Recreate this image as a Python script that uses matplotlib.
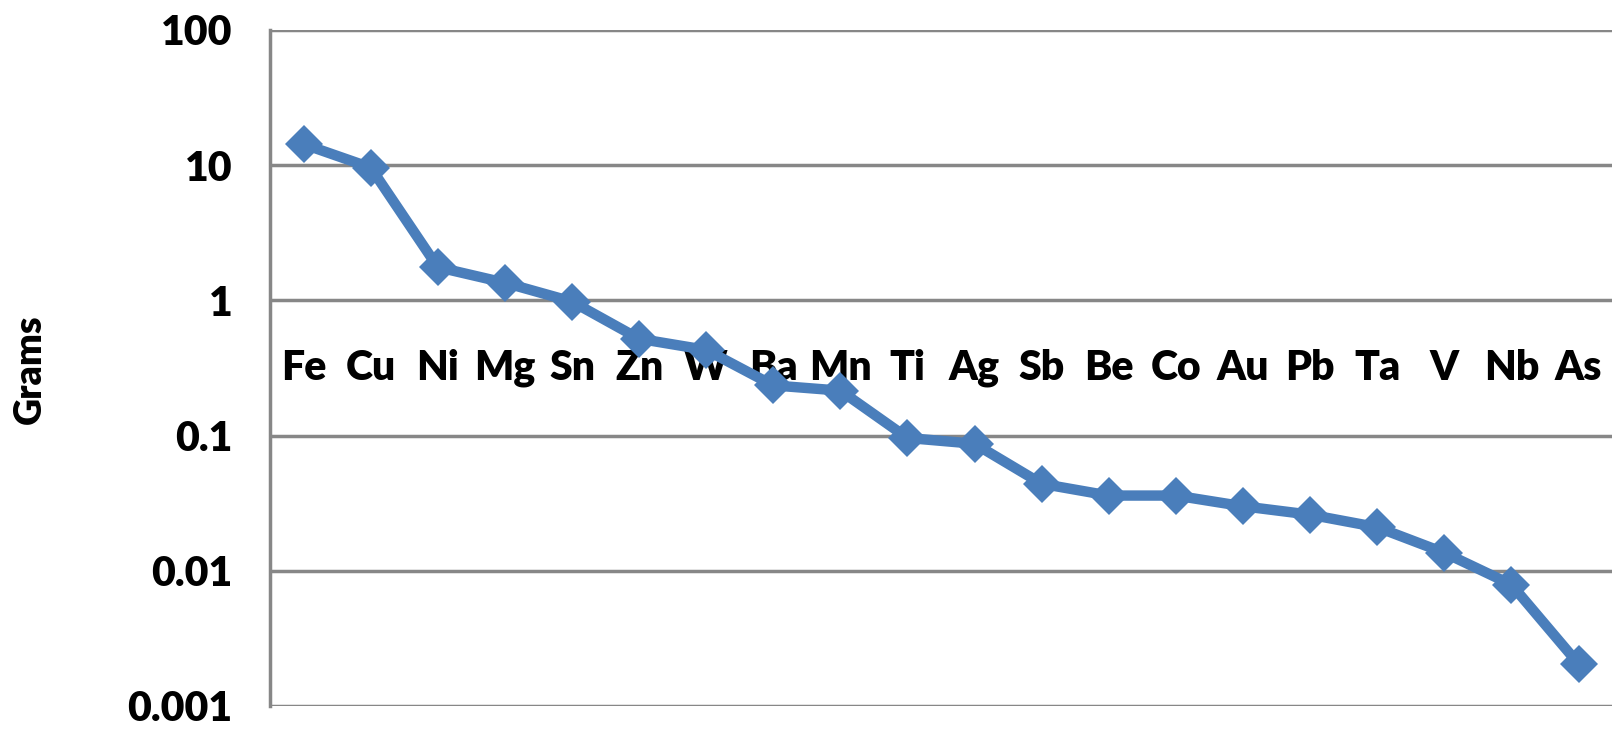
import matplotlib
matplotlib.use('Agg')
import matplotlib.pyplot as plt

# element symbols and mass in grams
elements = ['Fe', 'Cu', 'Ni', 'Mg', 'Sn', 'Zn', 'W', 'Ba', 'Mn', 'Ti',
            'Ag', 'Sb', 'Be', 'Co', 'Au', 'Pb', 'Ta', 'V', 'Nb', 'As']
grams = [14.3, 9.6, 1.76, 1.35, 0.98, 0.52, 0.43, 0.235, 0.215, 0.096,
         0.087, 0.044, 0.036, 0.036, 0.030, 0.026, 0.021, 0.0136, 0.0079, 0.00205]
yticks = [0.001, 0.01, 0.1, 1, 10, 100]
ytick_labels = ['0.001', '0.01', '0.1', '1', '10', '100']

plt.rcParams['font.family'] = ['Lato', 'DejaVu Sans']
wt = 'heavy'

fig = plt.figure(figsize=(16.14, 7.35), dpi=100)
ax = fig.add_axes([0.1673, 0.0395, 0.8315, 0.9197])

x = list(range(len(elements)))
ax.plot(x, grams, color='#4a7ebb', lw=7.5, marker='D', markersize=19,
        markeredgewidth=0, zorder=3)

ax.set_yscale('log')
ax.set_ylim(0.001, 100)
ax.set_xlim(-0.5, len(elements) - 0.5)
ax.set_yticks(yticks)
ax.set_yticklabels(ytick_labels, fontsize=29.5, fontweight=wt)
ax.minorticks_off()
ax.tick_params(axis='y', length=0, pad=27)
ax.set_xticks([])

ax.grid(axis='y', color='#878787', lw=2.5)
ax.set_axisbelow(True)
for s in ['top', 'right', 'bottom']:
    ax.spines[s].set_visible(False)
ax.spines['left'].set_color('#878787')
ax.spines['left'].set_linewidth(2.5)

# category labels sit just below the y=1 line (Excel axis crossing)
for i, name in enumerate(elements):
    ax.text(i, 0.316, name, ha='center', va='center', fontsize=29.5,
            fontweight=wt, zorder=2)

fig.text(0.0186, 0.498, 'Grams', rotation=90, ha='center', va='center',
         fontsize=27, fontweight=wt)

fig.savefig('out.png', dpi=100)
